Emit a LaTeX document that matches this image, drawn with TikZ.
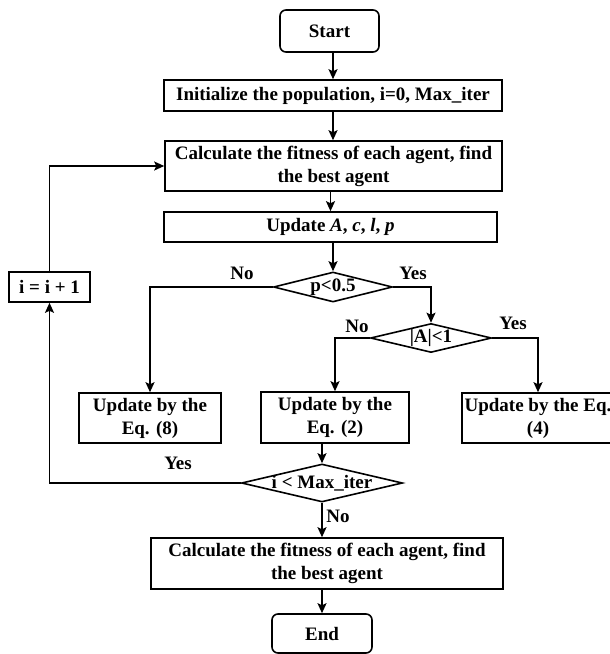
\documentclass[tikz,border=0pt]{standalone}
\usepackage{fontspec}
\setmainfont{Liberation Serif}
\usetikzlibrary{shapes.geometric,arrows.meta}
\begin{document}
\begin{tikzpicture}[x=1pt,y=-1pt,
  every node/.style={font=\fontsize{19}{23}\selectfont\bfseries},
  box/.style={draw, line width=1.6pt, inner sep=0pt, align=center},
  roundbox/.style={box, rounded corners=6pt},
  dia/.style={draw, diamond, line width=1.6pt, inner sep=0pt},
  lab/.style={inner sep=0pt},
  arr/.style={line width=1.6pt, -{Stealth[length=10pt,width=9pt,inset=2pt]}}
]
\useasboundingbox (0,0) rectangle (610,654);
\clip (0,0) rectangle (610,654);

\node[roundbox, minimum width=99pt, minimum height=42pt] (start) at (329.5,31) {Start};
\node[box, minimum width=338pt, minimum height=31pt] (init) at (333,95.5) {Initialize the population, i=0, Max\_iter};
\node[box, minimum width=337pt, minimum height=50pt] (calc) at (333.5,166) {Calculate the fitness of each agent, find\\the best agent};
\node[box, minimum width=333pt, minimum height=30pt] (upd) at (330.5,227) {Update \textit{A}, \textit{c}, \textit{l}, \textit{p}};
\node[dia, minimum width=119pt, minimum height=30pt] (d1) at (333,287) {\makebox[0pt]{p<0.5}};
\node[dia, minimum width=121pt, minimum height=29pt] (d2) at (431,338) {\makebox[0pt]{|A|<1}};
\node[box, minimum width=142pt, minimum height=50pt] (eq8) at (150,418) {Update by the\\Eq. (8)};
\node[box, minimum width=148pt, minimum height=51pt] (eq2) at (335,417.5) {Update by the\\Eq. (2)};
\node[box, minimum width=152pt, minimum height=50pt] (eq4) at (538,418) {Update by the Eq.\\(4)};
\node[dia, minimum width=161pt, minimum height=38pt] (d3) at (322,483) {\makebox[0pt]{i < Max\_iter}};
\node[box, minimum width=352pt, minimum height=51pt] (calc2) at (327,563.5) {Calculate the fitness of each agent, find\\the best agent};
\node[roundbox, minimum width=100pt, minimum height=39pt] (end) at (322,633.5) {End};
\node[box, minimum width=81pt, minimum height=30pt] (inc) at (49.5,287) {i = i + 1};

\node[lab] (no1) at (242,273) {No};
\node[lab] (yes1) at (413,273) {Yes};
\node[lab] (no2) at (357,326) {No};
\node[lab] (yes2) at (513,323) {Yes};
\node[lab] (yes3) at (178,463) {Yes};
\node[lab] (no3) at (338,516) {No};

\draw[arr] (start.south -| init.north) -- (init.north);
\draw[arr] (init.south) -- (init.south |- calc.north);
\draw[arr] (calc.south -| upd.north) -- (upd.north);
\draw[arr] (d1.north |- upd.south) -- (d1.north);
\draw[arr] (d1.west) -| (eq8.north);
\draw[arr] (d1.east) -| (d2.north);
\draw[arr] (d2.west) -| (eq2.north);
\draw[arr] (d2.east) -| (eq4.north);
\draw[arr] (d3.north |- eq2.south) -- (d3.north);
\draw[arr] (d3.south) -- (d3.south |- calc2.north);
\draw[arr] (calc2.south -| end.north) -- (end.north);
\draw[arr] (d3.west) -| (inc.south);
\draw[arr] (inc.north) |- (calc.west);
\end{tikzpicture}
\end{document}
